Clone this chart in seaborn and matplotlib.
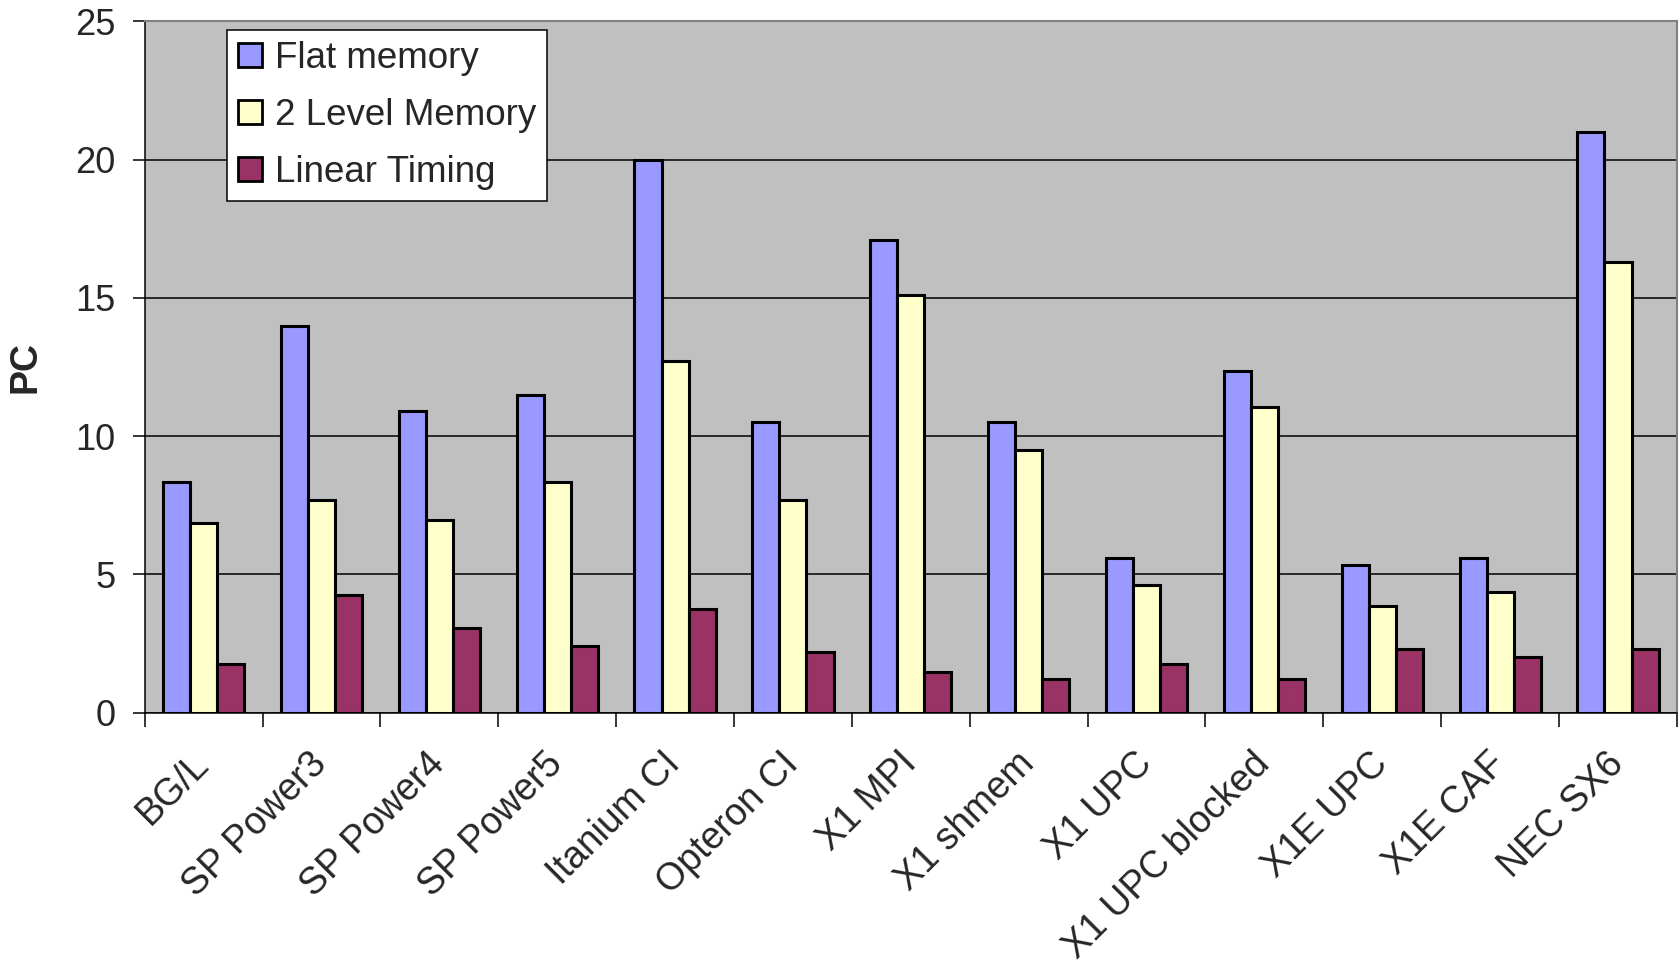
import matplotlib
matplotlib.use("Agg")
import matplotlib.pyplot as plt
import seaborn as sns
import pandas as pd
import numpy as np

# Systems compared
categories = ["BG/L", "SP Power3", "SP Power4", "SP Power5", "Itanium CI",
              "Opteron CI", "X1 MPI", "X1 shmem", "X1 UPC", "X1 UPC blocked",
              "X1E UPC", "X1E CAF", "NEC SX6"]

# PC values per memory model
flat_memory = [8.35, 14.0, 10.9, 11.5, 20.0, 10.5, 17.1, 10.5, 5.6, 12.35, 5.35, 5.6, 21.0]
two_level_memory = [6.85, 7.7, 6.95, 8.35, 12.7, 7.7, 15.1, 9.5, 4.6, 11.05, 3.85, 4.35, 16.3]
linear_timing = [1.75, 4.25, 3.05, 2.4, 3.75, 2.2, 1.45, 1.2, 1.75, 1.2, 2.3, 2.0, 2.3]

series_names = ["Flat memory", "2 Level Memory", "Linear Timing"]
series_colors = ["#9999FF", "#FFFFCC", "#993366"]
y_ticks = [0, 5, 10, 15, 20, 25]

df = pd.DataFrame({
    "system": categories * 3,
    "series": [series_names[0]] * len(categories)
              + [series_names[1]] * len(categories)
              + [series_names[2]] * len(categories),
    "PC": flat_memory + two_level_memory + linear_timing,
})

sns.set_theme(style="white")
plt.rcParams["font.family"] = ["Liberation Sans", "DejaVu Sans"]

fig = plt.figure(figsize=(16.8, 9.66), dpi=100)
ax = fig.add_axes([0.0861, 0.2624, 0.9121, 0.7154])
ax.set_facecolor("#C0C0C0")

sns.barplot(data=df, x="system", y="PC", hue="series", order=categories,
            hue_order=series_names, palette=series_colors, saturation=1,
            width=0.69, edgecolor="black", linewidth=2.2, ax=ax)

ax.set_xlim(-0.5, len(categories) - 0.5)
ax.set_ylim(0, 25)
ax.set_yticks(y_ticks)
ax.yaxis.grid(True, color="black", linewidth=1.1)
ax.set_axisbelow(True)

# category boundaries carry the visible x ticks
ax.set_xticks(np.arange(-0.5, len(categories)), minor=True)
ax.tick_params(axis="x", which="minor", direction="out", length=10,
               width=1.1, color="black", bottom=True)
ax.tick_params(axis="x", which="major", length=0, pad=33, labelsize=27)
for lbl in ax.get_xticklabels():
    lbl.set_rotation(45)
    lbl.set_ha("right")
    lbl.set_va("center")
    lbl.set_rotation_mode("anchor")

ax.tick_params(axis="y", direction="out", length=9, width=1.1, color="black",
               left=True, pad=12, labelsize=26)

ax.set_xlabel("")
ax.set_ylabel("PC", fontsize=27, fontweight="bold")
ax.yaxis.set_label_coords(-0.066, 0.5)

for side in ("left", "bottom"):
    ax.spines[side].set_color("black")
    ax.spines[side].set_linewidth(1.1)
for side in ("top", "right"):
    ax.spines[side].set_color("#808080")
    ax.spines[side].set_linewidth(1.5)

leg = ax.legend(loc="upper left", bbox_to_anchor=(0.054, 0.988),
                borderaxespad=0, frameon=True, fancybox=False,
                edgecolor="black", facecolor="white", framealpha=1,
                fontsize=26.5, handlelength=0.63, handleheight=0.63,
                handletextpad=0.35, labelspacing=0.6, borderpad=0.3,
                title=None)
leg.get_frame().set_linewidth(1.1)
for h in leg.legend_handles:
    h.set_edgecolor("black")
    h.set_linewidth(2)

fig.savefig("out.png", dpi=100, facecolor="white")
